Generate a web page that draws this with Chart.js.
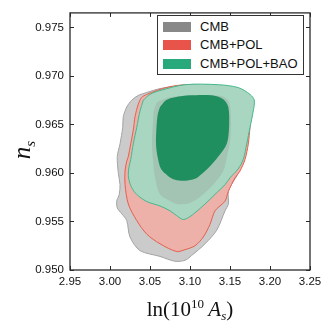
<!DOCTYPE html>
<html>
<head>
<meta charset="utf-8">
<script src="https://cdn.jsdelivr.net/npm/chart.js@4.4.1/dist/chart.umd.min.js"></script>
<style>
  html, body { margin: 0; padding: 0; background: #fff; }
  #wrap { position: relative; width: 332px; height: 332px; }
  #chart { position: absolute; left: 0; top: 0; }
  #legend {
    position: absolute; left: 157px; top: 15px; width: 147px; height: 60px;
    box-sizing: border-box; border: 1.3px solid #333; background: #fff;
  }
  .patch { position: absolute; left: 163px; width: 28px; height: 10px; }
  .lab {
    position: absolute; left: 200px; height: 14px; line-height: 14px;
    font-family: "Liberation Sans", Arial, sans-serif; font-size: 13px; color: #111;
    white-space: nowrap;
  }
  #xtitle {
    position: absolute; left: 90px; width: 200px; top: 297px; text-align: center;
    font-family: "Liberation Serif", "DejaVu Serif", serif; font-size: 21px; color: #111;
  }
  #xtitle sup { font-size: 13px; vertical-align: 8px; line-height: 0; }
  #xtitle sub { font-size: 13px; vertical-align: -4px; line-height: 0; }
  #ytitle {
    position: absolute; left: -28px; top: 136px; width: 100px; text-align: center;
    font-family: "Liberation Serif", "DejaVu Serif", serif; font-size: 25px; color: #111;
    transform: rotate(-90deg);
  }
  #ytitle sub { font-size: 15px; vertical-align: -5px; line-height: 0; }
</style>
</head>
<body>
<div id="wrap">
  <canvas id="chart" width="332" height="332"></canvas>
  <div id="legend"></div>
  <div class="patch" style="top:22px;background:#888888"></div>
  <div class="patch" style="top:40px;background:#e8544a"></div>
  <div class="patch" style="top:59px;background:#28a97b"></div>
  <div class="lab" style="top:20px">CMB</div>
  <div class="lab" style="top:38px">CMB+POL</div>
  <div class="lab" style="top:57px">CMB+POL+BAO</div>
  <div id="xtitle">ln(10<sup>10</sup>&#8201;<i>A<sub>s</sub></i>)</div>
  <div id="ytitle"><i>n<sub>s</sub></i></div>
</div>
<script>
// Axis ranges
const X_MIN = 2.95, X_MAX = 3.25, X_STEP = 0.05;
const Y_MIN = 0.950, Y_MAX = 0.9765, Y_STEP = 0.005;

// CMB contours (outer = 95%, inner = 68%)
const cmbOuterX = [3.0459, 3.0625, 3.0788, 3.1125, 3.1463, 3.1675, 3.1725, 3.1713, 3.1694, 3.1679,
  3.1646, 3.1604, 3.1525, 3.1479, 3.1479, 3.1438, 3.1334, 3.1188, 3.1021, 3.0938,
  3.0813, 3.0625, 3.0375, 3.025, 3.0209, 3.0146, 3.0091, 3.0084, 3.0116, 3.0125,
  3.0104, 3.0091, 3.0125, 3.0159, 3.0166, 3.0209, 3.0271, 3.0354];
const cmbOuterY = [0.9683, 0.9687, 0.9689, 0.9690, 0.9689, 0.9685, 0.9677, 0.9665, 0.9647, 0.9630,
  0.9614, 0.9600, 0.9589, 0.9581, 0.9568, 0.9561, 0.9541, 0.9527, 0.9515, 0.9510,
  0.9509, 0.9514, 0.9520, 0.9534, 0.9551, 0.9558, 0.9564, 0.9571, 0.9578, 0.9588,
  0.9600, 0.9617, 0.9630, 0.9647, 0.9658, 0.9668, 0.9675, 0.9680];
const cmbInnerX = [3.0588, 3.075, 3.1125, 3.14, 3.1488, 3.1513, 3.15, 3.1463, 3.1416, 3.1291,
  3.1166, 3.1, 3.0834, 3.075, 3.0625, 3.0563, 3.0538, 3.0525, 3.0538, 3.055];
const cmbInnerY = [0.9673, 0.9678, 0.9680, 0.9679, 0.9673, 0.9653, 0.9632, 0.9617, 0.9602, 0.9588,
  0.9578, 0.9569, 0.9568, 0.9571, 0.9578, 0.9595, 0.9612, 0.9632, 0.9653, 0.9665];

// CMB+POL contours
const polOuterX = [3.0459, 3.0584, 3.075, 3.0938, 3.1188, 3.1521, 3.1688, 3.175, 3.1771, 3.175,
  3.1729, 3.1688, 3.1625, 3.1563, 3.1479, 3.1438, 3.1313, 3.125, 3.1166, 3.1063,
  3.0938, 3.0834, 3.0625, 3.0459, 3.0334, 3.0229, 3.0188, 3.0188, 3.0209, 3.0229,
  3.0259, 3.0291, 3.0313, 3.0354, 3.0396];
const polOuterY = [0.9681, 0.9685, 0.9689, 0.9691, 0.9691, 0.9688, 0.9681, 0.9675, 0.9664, 0.9647,
  0.9630, 0.9614, 0.9602, 0.9595, 0.9581, 0.9571, 0.9561, 0.9547, 0.9534, 0.9525,
  0.9521, 0.9519, 0.9527, 0.9537, 0.9551, 0.9568, 0.9588, 0.9602, 0.9612, 0.9617,
  0.9630, 0.9644, 0.9658, 0.9671, 0.9678];
const polInnerX = [3.06, 3.0688, 3.0813, 3.1, 3.1275, 3.1425, 3.1488, 3.15, 3.1475, 3.14,
  3.13, 3.1175, 3.1038, 3.09, 3.0775, 3.0663, 3.06, 3.0575, 3.0575, 3.0588];
const polInnerY = [0.9668, 0.9676, 0.9679, 0.9680, 0.9680, 0.9676, 0.9668, 0.9647, 0.9630, 0.9614,
  0.9600, 0.9588, 0.9582, 0.9581, 0.9585, 0.9595, 0.9607, 0.9622, 0.9642, 0.9660];

// CMB+POL+BAO contours
const baoOuterX = [3.0416, 3.05, 3.0625, 3.0938, 3.1354, 3.1604, 3.175, 3.1804, 3.1791, 3.175,
  3.1709, 3.1666, 3.16, 3.15, 3.1438, 3.1313, 3.1188, 3.1063, 3.1, 3.0916,
  3.0834, 3.075, 3.0625, 3.0475, 3.0375, 3.03, 3.025, 3.0229, 3.0235, 3.0259,
  3.0291, 3.0334, 3.0375];
const baoOuterY = [0.9675, 0.9681, 0.9685, 0.9691, 0.9691, 0.9688, 0.9681, 0.9675, 0.9664, 0.9647,
  0.9630, 0.9614, 0.9604, 0.9595, 0.9588, 0.9578, 0.9568, 0.9559, 0.9555, 0.9552,
  0.9556, 0.9561, 0.9566, 0.9570, 0.9575, 0.9581, 0.9589, 0.9597, 0.9605, 0.9614,
  0.9630, 0.9647, 0.9664];
const baoInnerX = [3.0625, 3.07, 3.0813, 3.1, 3.1271, 3.1416, 3.1479, 3.1488, 3.1459, 3.1354,
  3.125, 3.1146, 3.1063, 3.0938, 3.0813, 3.0725, 3.0638, 3.0594, 3.0575, 3.0581, 3.0596];
const baoInnerY = [0.9668, 0.9675, 0.9678, 0.9680, 0.9680, 0.9676, 0.9668, 0.9647, 0.9630, 0.9617,
  0.9607, 0.9599, 0.9594, 0.9592, 0.9593, 0.9597, 0.9604, 0.9617, 0.9630, 0.9647, 0.9660];

// Zip x/y lists into a closed ring of points
function ring(xs, ys) {
  const pts = xs.map((x, i) => ({ x: x, y: ys[i] }));
  pts.push({ x: xs[0], y: ys[0] });
  return pts;
}

function contour(xs, ys, fillColor, edgeColor, order) {
  return {
    data: ring(xs, ys),
    fill: "shape",
    backgroundColor: fillColor,
    borderColor: edgeColor || "rgba(0,0,0,0)",
    borderWidth: edgeColor ? 1 : 0,
    pointRadius: 0,
    tension: 0.3,
    order: order,
  };
}

// Inward tick marks on all four sides plus the frame
const frameTicks = {
  id: "frameTicks",
  afterDatasetsDraw(chart) {
    const { ctx, chartArea: a, scales } = chart;
    ctx.save();
    ctx.strokeStyle = "#2a2a2a";
    ctx.lineWidth = 1;
    ctx.beginPath();
    scales.x.ticks.forEach((t) => {
      const px = Math.round(scales.x.getPixelForValue(t.value)) + 0.5;
      ctx.moveTo(px, a.bottom); ctx.lineTo(px, a.bottom - 4);
      ctx.moveTo(px, a.top); ctx.lineTo(px, a.top + 4);
    });
    scales.y.ticks.forEach((t) => {
      const py = Math.round(scales.y.getPixelForValue(t.value)) + 0.5;
      ctx.moveTo(a.left, py); ctx.lineTo(a.left + 4, py);
      ctx.moveTo(a.right, py); ctx.lineTo(a.right - 4, py);
    });
    ctx.stroke();
    ctx.lineWidth = 1.3;
    ctx.strokeRect(a.left, a.top, a.right - a.left, a.bottom - a.top);
    ctx.restore();
  },
};

const tickFont = { family: "'Liberation Sans', Arial, sans-serif", size: 11.5 };

new Chart(document.getElementById("chart"), {
  type: "line",
  data: {
    datasets: [
      contour(cmbOuterX, cmbOuterY, "#cbcbcb", "#a3a3a3", 6),
      contour(polOuterX, polOuterY, "#edb1a9", "#e4604e", 5),
      contour(polInnerX, polInnerY, "#e38f82", null, 4),
      contour(baoOuterX, baoOuterY, "#a8d6c1", "#46b78d", 3),
      contour(cmbInnerX, cmbInnerY, "rgba(150,150,145,0.28)", null, 2),
      contour(baoInnerX, baoInnerY, "#1f8f5f", null, 1),
    ],
  },
  options: {
    responsive: false,
    devicePixelRatio: 1,
    animation: false,
    events: [],
    layout: { padding: { top: 10, right: 22, left: 0, bottom: 0 } },
    plugins: { legend: { display: false }, tooltip: { enabled: false } },
    scales: {
      x: {
        type: "linear",
        min: X_MIN,
        max: X_MAX,
        grid: { display: false, drawTicks: false },
        border: { display: false },
        ticks: {
          stepSize: X_STEP,
          includeBounds: false,
          padding: 5,
          color: "#111",
          font: tickFont,
          maxRotation: 0,
          autoSkip: false,
          callback: (v) => v.toFixed(2),
        },
        afterFit: (s) => { s.height = 62; },
      },
      y: {
        type: "linear",
        min: Y_MIN,
        max: Y_MAX,
        grid: { display: false, drawTicks: false },
        border: { display: false },
        ticks: {
          stepSize: Y_STEP,
          includeBounds: false,
          padding: 6,
          color: "#111",
          font: tickFont,
          autoSkip: false,
          callback: (v) => v.toFixed(3),
        },
        afterFit: (s) => { s.width = 70; },
      },
    },
  },
  plugins: [frameTicks],
});
</script>
</body>
</html>
